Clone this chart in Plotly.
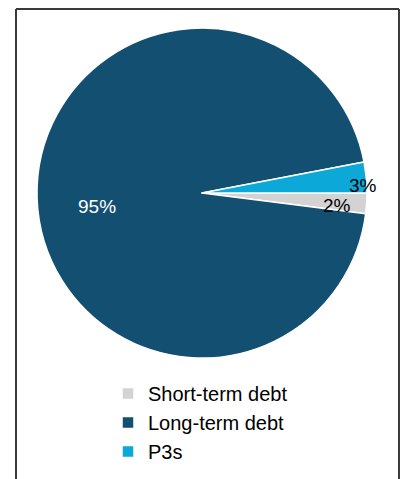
import math
import plotly.graph_objects as go

# Data
categories = ["Short-term debt", "Long-term debt", "P3s"]
values = [2, 95, 3]
colors = ["#D3D3D3", "#134F71", "#0BA8D8"]
label_colors = ["#000000", "#FFFFFF", "#000000"]

W, H = 404, 479
cx, cy, R = 202, 193, 165

fig = go.Figure()
fig.add_trace(go.Pie(
    labels=categories,
    values=values,
    marker=dict(colors=colors, line=dict(color="#FFFFFF", width=1.5)),
    sort=False,
    direction="clockwise",
    rotation=90,
    textinfo="none",
    hoverinfo="label+percent",
    domain=dict(x=[(cx - R) / W, (cx + R) / W], y=[1 - (cy + R) / H, 1 - (cy - R) / H]),
))

# Percentage labels placed along each slice's mid-angle (radial factor per slice)
radial = [0.82, 0.64, 0.98]
angle_shift = [-1.5, -1.1, 0.0]  # small tweaks (degrees) to mimic original placement
total = sum(values)
start = 0.0
annotations = []
for v, lc, rf, sh in zip(values, label_colors, radial, angle_shift):
    span = 360.0 * v / total
    mid = start + span / 2 + sh  # clockwise from 3 o'clock
    a = math.radians(mid)
    px = cx + rf * R * math.cos(a)
    py = cy + rf * R * math.sin(a) + 8
    annotations.append(dict(
        x=px / W, y=1 - py / H, xref="paper", yref="paper",
        text=f"{round(100 * v / total)}%", showarrow=False,
        font=dict(family="Liberation Sans, Arial, sans-serif", size=19, color=lc),
        xanchor="center", yanchor="middle",
    ))
    start += span

fig.update_layout(
    width=W, height=H,
    margin=dict(l=0, r=0, t=0, b=0),
    paper_bgcolor="#FFFFFF",
    plot_bgcolor="#FFFFFF",
    showlegend=True,
    legend=dict(
        x=108 / W, y=1 - 374 / H, xanchor="left", yanchor="top",
        font=dict(family="Liberation Sans, Arial, sans-serif", size=20, color="#000000"),
        traceorder="normal", bgcolor="rgba(0,0,0,0)", tracegroupgap=0,
        itemwidth=30,
    ),
    annotations=annotations,
    shapes=[
        dict(type="line", xref="paper", yref="paper", x0=16 / W, x1=16 / W, y0=-0.05, y1=1 - 9 / H,
             line=dict(color="#3A3A3A", width=2)),
        dict(type="line", xref="paper", yref="paper", x0=16 / W, x1=399 / W, y0=1 - 9 / H, y1=1 - 9 / H,
             line=dict(color="#3A3A3A", width=2)),
        dict(type="line", xref="paper", yref="paper", x0=399 / W, x1=399 / W, y0=-0.05, y1=1 - 9 / H,
             line=dict(color="#3A3A3A", width=2)),
    ],
)

fig.write_html("out.html")
